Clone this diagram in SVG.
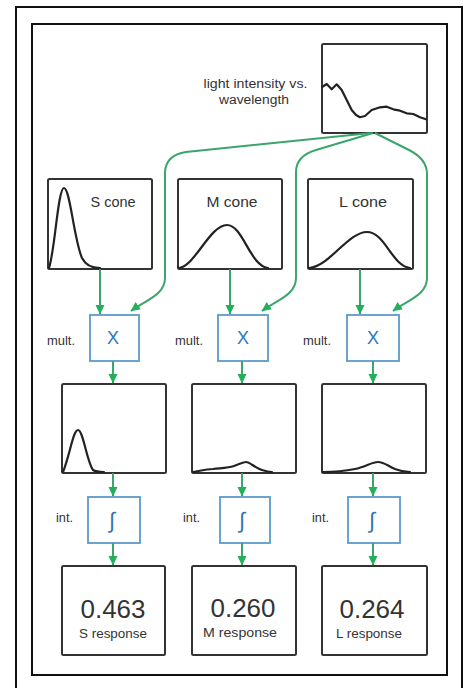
<svg xmlns="http://www.w3.org/2000/svg" width="467" height="688" viewBox="0 0 467 688">
  <defs>
    <marker id="arrow" markerUnits="userSpaceOnUse" markerWidth="10" markerHeight="10" refX="9" refY="5" orient="auto">
      <path d="M0,0.5 L9.5,5 L0,9.5 z" fill="#23b05a"/>
    </marker>
    <style>
      .frame { fill: none; stroke: #111; stroke-width: 2; }
      .plot { fill: #fff; stroke: #333; stroke-width: 2; }
      .op { fill: #fff; stroke: #5b9bc8; stroke-width: 1.8; }
      .curve { fill: none; stroke: #222; stroke-width: 2.2; stroke-linejoin: round; stroke-linecap: round; }
      .wire { fill: none; stroke: #3aa56c; stroke-width: 2; marker-end: url(#arrow); }
      .lbl { font-family: "Liberation Sans", Arial, sans-serif; fill: #333; }
      .sym { font-family: "Liberation Sans", Arial, sans-serif; fill: #2f78b8; text-anchor: middle; }
    </style>
  </defs>

  <rect width="467" height="688" fill="#fff"/>
  <path class="frame" d="M16,688 L16,7 L462,7 L462,688"/>
  <rect class="frame" x="32" y="24" width="415" height="651"/>

  <!-- light spectrum -->
  <g id="light">
    <rect class="plot" x="322" y="44" width="105" height="89" rx="1.5"/>
    <path class="curve" d="M322.5,86.7 L326.7,84 L331.7,89.3 L336.7,84.3 L341.7,90 L346.7,100 L351.7,110 L356,115 L360,117.3 L365,116 L371.7,110 L380,107.3 L386.7,106.7 L393.3,109.3 L400,110.7 L406.7,113.3 L413.3,114 L420,117.3 L426,119.3"/>
    <text class="lbl" x="255.5" y="88" font-size="12.5" text-anchor="middle" textLength="104" lengthAdjust="spacingAndGlyphs">light intensity vs.</text>
    <text class="lbl" x="254" y="104" font-size="12.5" text-anchor="middle" textLength="70" lengthAdjust="spacingAndGlyphs">wavelength</text>
  </g>

  <!-- cone sensitivities -->
  <g id="s-cone">
    <rect class="plot" x="48" y="179" width="104" height="90" rx="1.5"/>
    <path class="curve" d="M49,268 C55,250 58,188 64,188 C70,188 74,240 82,258 C86,266 92,268 100,268"/>
    <text class="lbl" x="113" y="207" font-size="14" text-anchor="middle" textLength="45" lengthAdjust="spacingAndGlyphs">S cone</text>
  </g>
  <g id="m-cone">
    <rect class="plot" x="178" y="179" width="104" height="90" rx="1.5"/>
    <path class="curve" d="M179,268 C195,266 210,225 227,225 C243,225 250,266 268,268"/>
    <text class="lbl" x="232" y="207" font-size="14" text-anchor="middle" textLength="51" lengthAdjust="spacingAndGlyphs">M cone</text>
  </g>
  <g id="l-cone">
    <rect class="plot" x="308" y="179" width="105" height="90" rx="1.5"/>
    <path class="curve" d="M309,268 C330,266 348,232 367,232 C385,232 392,266 410,268"/>
    <text class="lbl" x="363" y="207" font-size="14" text-anchor="middle" textLength="48" lengthAdjust="spacingAndGlyphs">L cone</text>
  </g>

  <!-- multiply steps -->
  <g id="s-mult">
    <rect class="op" x="90" y="315" width="49" height="46"/>
    <text class="sym" x="113" y="344" font-size="18">X</text>
    <text class="lbl" x="47" y="345" font-size="12" textLength="28" lengthAdjust="spacingAndGlyphs">mult.</text>
  </g>
  <g id="m-mult">
    <rect class="op" x="218" y="315" width="50" height="46"/>
    <text class="sym" x="243" y="344" font-size="18">X</text>
    <text class="lbl" x="175" y="345" font-size="12" textLength="28" lengthAdjust="spacingAndGlyphs">mult.</text>
  </g>
  <g id="l-mult">
    <rect class="op" x="347" y="315" width="52" height="46"/>
    <text class="sym" x="373" y="344" font-size="18">X</text>
    <text class="lbl" x="303" y="345" font-size="12" textLength="28" lengthAdjust="spacingAndGlyphs">mult.</text>
  </g>

  <!-- products -->
  <g id="s-product">
    <rect class="plot" x="62" y="384" width="104" height="89" rx="1.5"/>
    <path class="curve" d="M63,472 C70,455 73,430 78,430 C83,430 87,462 93,470 C96,472 100,472 104,472"/>
  </g>
  <g id="m-product">
    <rect class="plot" x="192" y="384" width="104" height="89" rx="1.5"/>
    <path class="curve" d="M193,472 C200,471 205,469 213,469 C222,468 228,468 234,466 C240,464 243,462 246,462 C250,462 255,468 262,470 C265,471 268,472 272,472"/>
  </g>
  <g id="l-product">
    <rect class="plot" x="322" y="384" width="104" height="89" rx="1.5"/>
    <path class="curve" d="M323,472 C335,472 345,471 355,469 C365,467 372,462 378,462 C384,462 388,466 395,469 C400,471 405,472 410,472"/>
  </g>

  <!-- integrate steps -->
  <g id="s-int">
    <rect class="op" x="88" y="497" width="52" height="46"/>
    <text class="sym" x="112" y="528" font-size="22">∫</text>
    <text class="lbl" x="56" y="522" font-size="12" textLength="17" lengthAdjust="spacingAndGlyphs">int.</text>
  </g>
  <g id="m-int">
    <rect class="op" x="220" y="497" width="50" height="46"/>
    <text class="sym" x="242" y="528" font-size="22">∫</text>
    <text class="lbl" x="183" y="522" font-size="12" textLength="17" lengthAdjust="spacingAndGlyphs">int.</text>
  </g>
  <g id="l-int">
    <rect class="op" x="348" y="497" width="52" height="46"/>
    <text class="sym" x="372" y="528" font-size="22">∫</text>
    <text class="lbl" x="312" y="522" font-size="12" textLength="17" lengthAdjust="spacingAndGlyphs">int.</text>
  </g>

  <!-- responses -->
  <g id="s-response">
    <rect class="plot" x="62" y="566" width="103" height="89" rx="1.5"/>
    <text class="lbl" x="113" y="618" font-size="26" text-anchor="middle" textLength="65" lengthAdjust="spacingAndGlyphs">0.463</text>
    <text class="lbl" x="113" y="638" font-size="13.5" text-anchor="middle" textLength="68" lengthAdjust="spacingAndGlyphs">S response</text>
  </g>
  <g id="m-response">
    <rect class="plot" x="192" y="566" width="104" height="89" rx="1.5"/>
    <text class="lbl" x="243" y="617" font-size="26" text-anchor="middle" textLength="65" lengthAdjust="spacingAndGlyphs">0.260</text>
    <text class="lbl" x="240" y="637" font-size="13.5" text-anchor="middle" textLength="74" lengthAdjust="spacingAndGlyphs">M response</text>
  </g>
  <g id="l-response">
    <rect class="plot" x="322" y="566" width="105" height="89" rx="1.5"/>
    <text class="lbl" x="372" y="618" font-size="26" text-anchor="middle" textLength="65" lengthAdjust="spacingAndGlyphs">0.264</text>
    <text class="lbl" x="369" y="638" font-size="13.5" text-anchor="middle" textLength="66" lengthAdjust="spacingAndGlyphs">L response</text>
  </g>

  <!-- connectors -->
  <g id="connectors">
    <path class="wire" d="M371,133 L186,152 Q166,155 165,172 L165,278 C165,295 146,300 131,311"/>
    <path class="wire" d="M373,133 L316,150 Q296,156 296,172 L296,278 C296,295 277,300 262,311"/>
    <path class="wire" d="M375,133 L409,150 Q427,159 427,174 L427,278 C427,295 408,300 393,311"/>

    <path class="wire" d="M100,269 L100,314"/>
    <path class="wire" d="M230,269 L230,314"/>
    <path class="wire" d="M360,269 L360,314"/>

    <path class="wire" d="M113,361 L113,383"/>
    <path class="wire" d="M242,361 L242,383"/>
    <path class="wire" d="M373,361 L373,383"/>

    <path class="wire" d="M113,473 L113,496"/>
    <path class="wire" d="M242,473 L242,496"/>
    <path class="wire" d="M373,473 L373,496"/>

    <path class="wire" d="M113,543 L113,565"/>
    <path class="wire" d="M242,543 L242,565"/>
    <path class="wire" d="M373,543 L373,565"/>
  </g>
</svg>
